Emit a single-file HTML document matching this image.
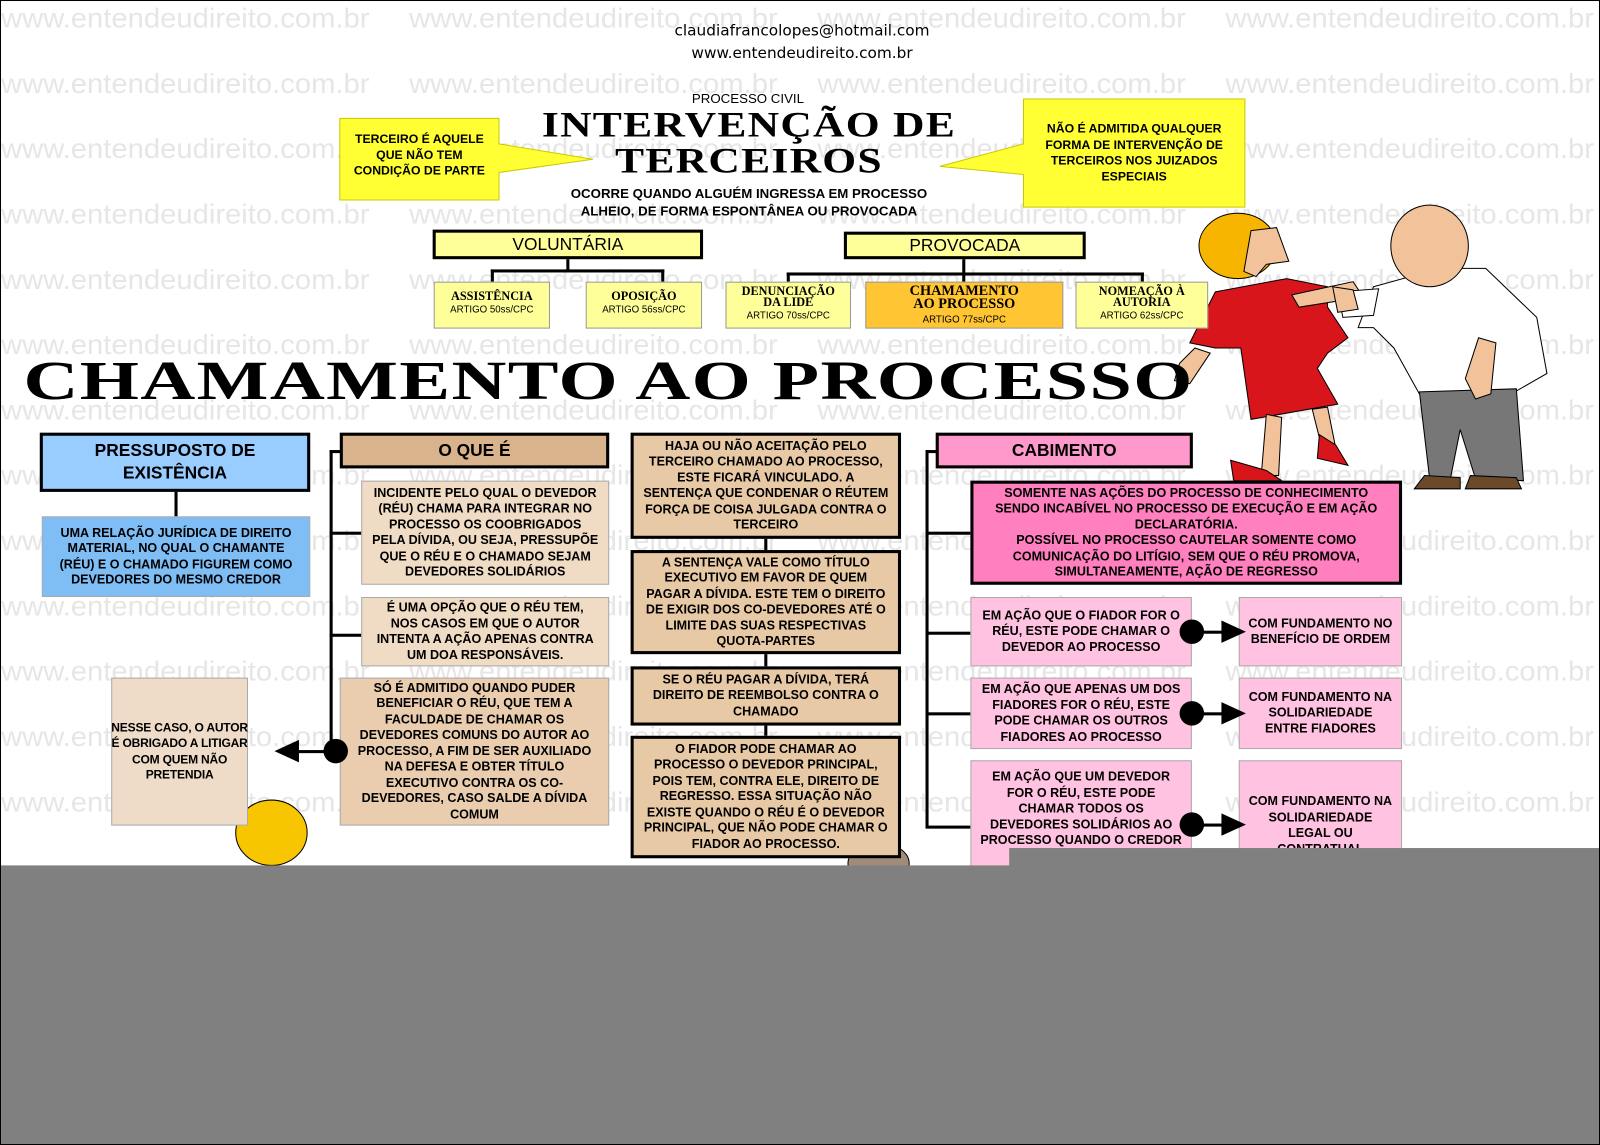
<!DOCTYPE html>
<html><head><meta charset="utf-8"><style>
*{margin:0;padding:0;box-sizing:border-box}
body{width:1600px;height:1145px;overflow:hidden;background:#fff;font-family:"Liberation Sans",sans-serif}
#w{position:absolute;left:0;top:0;width:1568px;height:1122px;transform:scale(1.02041,1.02050);transform-origin:0 0;border:1px solid #000;overflow:hidden}
.a{position:absolute}
.wm{position:absolute;font-size:27px;color:#e6e6e6;white-space:nowrap;transform:scaleX(1.06);transform-origin:0 0}
.b{position:absolute;display:flex;align-items:center;justify-content:center;text-align:center;font-weight:bold;font-size:12.3px;line-height:15.5px}
.k{border:3px solid #000}
.t{border:1px solid #aaa}
.ln{position:absolute;background:#000}
.dot{position:absolute;width:24px;height:24px;border-radius:50%;background:#000}
.ar{position:absolute;width:0;height:0;border-top:11px solid transparent;border-bottom:11px solid transparent}
.sm{position:absolute;background:#ffff99;border:1px solid #999;text-align:center;font-family:"Liberation Serif",serif;font-weight:bold;font-size:12px;line-height:12px;padding-top:7px}
.sm span{display:block;font-family:"Liberation Sans",sans-serif;font-weight:normal;font-size:9.5px;margin-top:2px}
</style></head><body><div id="w">
<div id="wms"></div>
<script>
var s='';for(var r=0;r<13;r++)for(var c=0;c<4;c++)s+='<div class="wm" style="left:'+(c*400)+'px;top:'+(2+r*64)+'px">www.entendeudireito.com.br</div>';document.getElementById('wms').innerHTML=s;
</script>
<div class="a" style="left:640px;top:18px;width:290px;text-align:center;font-family:'DejaVu Sans',sans-serif;font-size:15px;line-height:22px">claudiafrancolopes@hotmail.com<br>www.entendeudireito.com.br</div>
<div class="a" style="left:632px;top:88px;width:200px;text-align:center;font-size:13px">PROCESSO CIVIL</div>
<div class="a" style="left:500px;top:104px;width:466px;text-align:center;font-family:'Liberation Serif',serif;font-weight:900;font-size:35px;line-height:35px;letter-spacing:1px;transform:scaleX(1.22);transform-origin:233px 0">INTERVENÇÃO DE<br>TERCEIROS</div>
<div class="a" style="left:500px;top:180px;width:466px;text-align:center;font-weight:bold;font-size:13px;line-height:17px">OCORRE QUANDO ALGUÉM INGRESSA EM PROCESSO<br>ALHEIO, DE FORMA ESPONTÂNEA OU PROVOCADA</div>
<svg class="a" style="left:0;top:0" width="1568" height="1122">
<polygon points="332,115 488,115 488,140 580,155 488,168 488,195 332,195" fill="#ffff33" stroke="#c9c900"/>
<polygon points="1002,96 1219,96 1219,202 1002,202 1002,170 920,162 1002,140" fill="#ffff33" stroke="#c9c900"/>
<path d="M1190,285 L1260,272 L1300,280 L1300,300 L1320,330 L1300,345 L1290,360 L1310,395 L1225,410 L1215,340 L1190,340 L1165,335 Z" fill="#d8151b" stroke="#000"/>
<path d="M1265,288 L1325,275 L1335,290 L1272,300Z" fill="#f2c39b" stroke="#000"/>
<path d="M1240,405 L1235,465 L1252,465 L1255,408Z M1285,400 L1295,440 L1308,438 L1300,398Z" fill="#f2c39b" stroke="#000"/>
<path d="M1205,450 L1240,460 L1255,470 L1208,470Z M1292,425 L1308,435 L1320,455 L1290,448Z" fill="#d8151b" stroke="#000"/>
<path d="M1170,340 L1155,355 L1150,372 L1165,375 L1185,345Z" fill="#f2c39b" stroke="#000"/>
<ellipse cx="1212" cy="240" rx="38" ry="32" fill="#f7b500" stroke="#000"/>
<path d="M1225,225 L1250,222 L1262,255 L1240,258 L1230,270 L1218,265Z" fill="#f2c39b" stroke="#000"/>
<g transform="translate(-40,0)">
<path d="M1385,280 L1450,262 L1495,262 L1545,310 L1555,365 L1520,385 L1430,385 L1405,340 L1385,320 L1370,320 Z" fill="#fff" stroke="#000"/>
<path d="M1350,285 L1390,282 L1385,308 L1355,310Z" fill="#fff" stroke="#000"/>
<path d="M1430,383 L1525,380 L1532,470 L1485,468 L1470,420 L1460,470 L1440,468Z" fill="#777" stroke="#000"/>
<path d="M1435,465 L1470,467 L1470,478 L1425,478Z M1480,465 L1525,467 L1530,478 L1475,478Z" fill="#6b4a2b" stroke="#000"/>
<ellipse cx="1440" cy="240" rx="38" ry="40" fill="#f2c39b" stroke="#000"/>
<path d="M1488,330 L1505,335 L1500,385 L1485,390 L1475,370Z" fill="#f2c39b" stroke="#000"/>
</g>
<path d="M1305,280 L1325,283 L1330,302 L1310,305Z" fill="#f2c39b" stroke="#000"/>
<ellipse cx="265" cy="815" rx="35" ry="32" fill="#f7c600" stroke="#000"/>
<ellipse cx="860" cy="845" rx="30" ry="20" fill="#a08a7a" stroke="#000"/>
</svg>
<div class="a" style="left:332px;top:128px;width:156px;text-align:center;font-weight:bold;font-size:12px;line-height:15.5px">TERCEIRO É AQUELE<br>QUE NÃO TEM<br>CONDIÇÃO DE PARTE</div>
<div class="a" style="left:1002px;top:118px;width:217px;text-align:center;font-weight:bold;font-size:12px;line-height:15.5px">NÃO É ADMITIDA QUALQUER<br>FORMA DE INTERVENÇÃO DE<br>TERCEIROS NOS JUIZADOS<br>ESPECIAIS</div>
<div class="b k" style="left:423px;top:224px;width:265px;height:29px;background:#ffff99;font-weight:normal;font-size:17px">VOLUNTÁRIA</div>
<div class="b k" style="left:826px;top:226px;width:237px;height:27px;background:#ffff99;font-weight:normal;font-size:17px">PROVOCADA</div>
<div class="ln" style="left:554px;top:253px;width:3px;height:11px"></div>
<div class="ln" style="left:480px;top:263px;width:170px;height:3px"></div>
<div class="ln" style="left:480px;top:263px;width:3px;height:12px"></div>
<div class="ln" style="left:647px;top:263px;width:3px;height:12px"></div>
<div class="ln" style="left:942px;top:253px;width:3px;height:14px"></div>
<div class="ln" style="left:770px;top:266px;width:350px;height:3px"></div>
<div class="ln" style="left:770px;top:266px;width:3px;height:9px"></div>
<div class="ln" style="left:942px;top:266px;width:3px;height:9px"></div>
<div class="ln" style="left:1117px;top:266px;width:3px;height:9px"></div>
<div class="sm" style="left:424px;top:275px;width:114px;height:46px">ASSISTÊNCIA<span>ARTIGO 50ss/CPC</span></div>
<div class="sm" style="left:573px;top:275px;width:114px;height:46px">OPOSIÇÃO<span>ARTIGO 56ss/CPC</span></div>
<div class="sm" style="left:710px;top:275px;width:123px;height:46px;padding-top:3px;line-height:11px">DENUNCIAÇÃO<br>DA LIDE<span>ARTIGO 70ss/CPC</span></div>
<div class="sm" style="left:847px;top:275px;width:194px;height:46px;background:#ffc533;padding-top:2px;font-size:14px;line-height:13px">CHAMAMENTO<br>AO PROCESSO<span>ARTIGO 77ss/CPC</span></div>
<div class="sm" style="left:1053px;top:275px;width:130px;height:46px;padding-top:3px;line-height:11px">NOMEAÇÃO À<br>AUTORIA<span>ARTIGO 62ss/CPC</span></div>
<div class="a" style="left:22px;top:345px;font-family:'Liberation Serif',serif;font-weight:900;font-size:54px;line-height:54px;white-space:nowrap;transform:scaleX(1.38);transform-origin:0 0;letter-spacing:1px">CHAMAMENTO AO PROCESSO</div>

<div class="b k" style="left:38px;top:423px;width:265px;height:58px;background:#99ccff;font-size:17px;line-height:22px">PRESSUPOSTO DE<br>EXISTÊNCIA</div>
<div class="ln" style="left:170px;top:481px;width:3px;height:24px"></div>
<div class="b t" style="left:40px;top:505px;width:263px;height:79px;background:#7fbdf5">UMA RELAÇÃO JURÍDICA DE DIREITO<br>MATERIAL, NO QUAL O CHAMANTE<br>(RÉU) E O CHAMADO FIGUREM COMO<br>DEVEDORES DO MESMO CREDOR</div>

<div class="b k" style="left:332px;top:423px;width:264px;height:35px;background:#d9b38c;font-size:17px">O QUE É</div>
<div class="ln" style="left:322px;top:440px;width:3px;height:296px"></div>
<div class="ln" style="left:322px;top:440px;width:12px;height:3px"></div>
<div class="ln" style="left:322px;top:520px;width:32px;height:3px"></div>
<div class="ln" style="left:322px;top:620px;width:32px;height:3px"></div>
<div class="b t" style="left:353px;top:470px;width:243px;height:102px;background:#f0dcc4">INCIDENTE PELO QUAL O DEVEDOR<br>(RÉU) CHAMA PARA INTEGRAR NO<br>PROCESSO OS COOBRIGADOS<br>PELA DÍVIDA, OU SEJA, PRESSUPÕE<br>QUE O RÉU E O CHAMADO SEJAM<br>DEVEDORES SOLIDÁRIOS</div>
<div class="b t" style="left:353px;top:584px;width:243px;height:68px;background:#f0dcc4">É UMA OPÇÃO QUE O RÉU TEM,<br>NOS CASOS EM QUE O AUTOR<br>INTENTA A AÇÃO APENAS CONTRA<br>UM DOA RESPONSÁVEIS.</div>
<div class="b t" style="left:332px;top:663px;width:264px;height:145px;background:#e9cdae">SÓ É ADMITIDO QUANDO PUDER<br>BENEFICIAR O RÉU, QUE TEM A<br>FACULDADE DE CHAMAR OS<br>DEVEDORES COMUNS DO AUTOR AO<br>PROCESSO, A FIM DE SER AUXILIADO<br>NA DEFESA E OBTER TÍTULO<br>EXECUTIVO CONTRA OS CO-<br>DEVEDORES, CASO SALDE A DÍVIDA<br>COMUM</div>
<div class="dot" style="left:316px;top:723px"></div>
<div class="ln" style="left:290px;top:734px;width:30px;height:3px"></div>
<div class="ar" style="left:268px;top:724px;border-right:24px solid #000"></div>
<div class="b t" style="left:108px;top:663px;width:134px;height:145px;background:#eedcc8;white-space:nowrap;font-size:11.8px;letter-spacing:-0.2px">NESSE CASO, O AUTOR<br>É OBRIGADO A LITIGAR<br>COM QUEM NÃO<br>PRETENDIA</div>

<div class="b k" style="left:617px;top:423px;width:265px;height:104px;background:#e8c9a5">HAJA OU NÃO ACEITAÇÃO PELO<br>TERCEIRO CHAMADO AO PROCESSO,<br>ESTE FICARÁ VINCULADO. A<br>SENTENÇA QUE CONDENAR O RÉUTEM<br>FORÇA DE COISA JULGADA CONTRA O<br>TERCEIRO</div>
<div class="ln" style="left:748px;top:527px;width:3px;height:11px"></div>
<div class="b k" style="left:617px;top:538px;width:265px;height:102px;background:#e8c9a5">A SENTENÇA VALE COMO TÍTULO<br>EXECUTIVO EM FAVOR DE QUEM<br>PAGAR A DÍVIDA. ESTE TEM O DIREITO<br>DE EXIGIR DOS CO-DEVEDORES ATÉ O<br>LIMITE DAS SUAS RESPECTIVAS<br>QUOTA-PARTES</div>
<div class="ln" style="left:748px;top:640px;width:3px;height:12px"></div>
<div class="b k" style="left:617px;top:652px;width:265px;height:58px;background:#e8c9a5">SE O RÉU PAGAR A DÍVIDA, TERÁ<br>DIREITO DE REEMBOLSO CONTRA O<br>CHAMADO</div>
<div class="ln" style="left:748px;top:710px;width:3px;height:10px"></div>
<div class="b k" style="left:617px;top:720px;width:265px;height:120px;background:#e8c9a5">O FIADOR PODE CHAMAR AO<br>PROCESSO O DEVEDOR PRINCIPAL,<br>POIS TEM, CONTRA ELE, DIREITO DE<br>REGRESSO. ESSA SITUAÇÃO NÃO<br>EXISTE QUANDO O RÉU É O DEVEDOR<br>PRINCIPAL, QUE NÃO PODE CHAMAR O<br>FIADOR AO PROCESSO.</div>

<div class="b k" style="left:916px;top:423px;width:252px;height:35px;background:#ff99cc;font-size:17px">CABIMENTO</div>
<div class="ln" style="left:906px;top:440px;width:3px;height:370px"></div>
<div class="ln" style="left:906px;top:440px;width:12px;height:3px"></div>
<div class="ln" style="left:906px;top:520px;width:44px;height:3px"></div>
<div class="ln" style="left:906px;top:618px;width:44px;height:3px"></div>
<div class="ln" style="left:906px;top:697px;width:44px;height:3px"></div>
<div class="ln" style="left:906px;top:808px;width:44px;height:3px"></div>
<div class="b k" style="left:950px;top:470px;width:423px;height:102px;background:#ff7fbf">SOMENTE NAS AÇÕES DO PROCESSO DE CONHECIMENTO<br>SENDO INCABÍVEL NO PROCESSO DE EXECUÇÃO E EM AÇÃO<br>DECLARATÓRIA.<br>POSSÍVEL NO PROCESSO CAUTELAR SOMENTE COMO<br>COMUNICAÇÃO DO LITÍGIO, SEM QUE O RÉU PROMOVA,<br>SIMULTANEAMENTE, AÇÃO DE REGRESSO</div>
<div class="b t" style="left:950px;top:584px;width:217px;height:68px;background:#ffc2e0">EM AÇÃO QUE O FIADOR FOR O<br>RÉU, ESTE PODE CHAMAR O<br>DEVEDOR AO PROCESSO</div>
<div class="b t" style="left:950px;top:663px;width:217px;height:70px;background:#ffc2e0">EM AÇÃO QUE APENAS UM DOS<br>FIADORES FOR O RÉU, ESTE<br>PODE CHAMAR OS OUTROS<br>FIADORES AO PROCESSO</div>
<div class="b t" style="left:950px;top:744px;width:217px;height:110px;background:#ffc2e0;align-items:flex-start;padding-top:8px">EM AÇÃO QUE UM DEVEDOR<br>FOR O RÉU, ESTE PODE<br>CHAMAR TODOS OS<br>DEVEDORES SOLIDÁRIOS AO<br>PROCESSO QUANDO O CREDOR<br>EXIGIR</div>
<div class="b t" style="left:1213px;top:584px;width:160px;height:68px;background:#ffc2e0">COM FUNDAMENTO NO<br>BENEFÍCIO DE ORDEM</div>
<div class="b t" style="left:1213px;top:663px;width:160px;height:70px;background:#ffc2e0">COM FUNDAMENTO NA<br>SOLIDARIEDADE<br>ENTRE FIADORES</div>
<div class="b t" style="left:1213px;top:744px;width:160px;height:110px;background:#ffc2e0;align-items:flex-start;padding-top:32px">COM FUNDAMENTO NA<br>SOLIDARIEDADE<br>LEGAL OU<br>CONTRATUAL</div>
<div class="dot" style="left:1155px;top:606px"></div><div class="ln" style="left:1175px;top:617px;width:22px;height:3px"></div><div class="ar" style="left:1196px;top:607px;border-left:24px solid #000"></div>
<div class="dot" style="left:1155px;top:686px"></div><div class="ln" style="left:1175px;top:697px;width:22px;height:3px"></div><div class="ar" style="left:1196px;top:687px;border-left:24px solid #000"></div>
<div class="dot" style="left:1155px;top:795px"></div><div class="ln" style="left:1175px;top:806px;width:22px;height:3px"></div><div class="ar" style="left:1196px;top:796px;border-left:24px solid #000"></div>

<div class="a" style="left:988px;top:830px;width:600px;height:20px;background:#808080"></div>
<div class="a" style="left:0;top:847px;width:1568px;height:280px;background:#808080"></div>
</div></body></html>
